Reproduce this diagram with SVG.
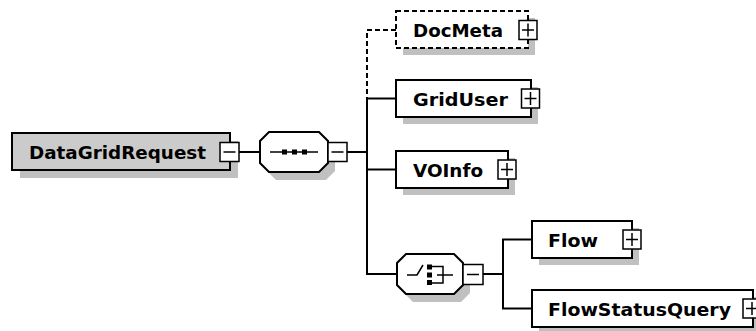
<svg xmlns="http://www.w3.org/2000/svg" width="756" height="331" viewBox="0 0 756 331">
<defs>
<style>
.bg{fill:#ffffff}
.shadow{fill:#c0c0c0;stroke:none}
.box{fill:#ffffff;stroke:#000;stroke-width:2}
.root{fill:#cbcbcb;stroke:#000;stroke-width:2}
.opt{fill:#ffffff;stroke:#000;stroke-width:2;stroke-dasharray:5 3}
.lbl{font-family:"DejaVu Sans",Verdana,sans-serif;font-weight:bold;font-size:18.5px;fill:#000}
.btn{fill:#fff;stroke:#000;stroke-width:1.5}
.sign{stroke:#000;stroke-width:1.5;fill:none}
.wire{stroke:#000;stroke-width:2;fill:none}
.dwire{stroke:#000;stroke-width:2;fill:none;stroke-dasharray:5 3}
.ico{stroke:#000;stroke-width:1.5;fill:none}
.dot{fill:#000}
</style>
</defs>
<rect class="bg" x="0" y="0" width="756" height="331"/>

<g id="connectors">
<line class="wire" x1="239" y1="152" x2="260" y2="152"/>
<line class="wire" x1="347" y1="152" x2="367" y2="152"/>
<polyline class="dwire" points="396,30 367,30 367,98.5"/>
<line class="wire" x1="367" y1="98.5" x2="367" y2="274"/>
<line class="wire" x1="366" y1="98.5" x2="396" y2="98.5"/>
<line class="wire" x1="366" y1="169.5" x2="396" y2="169.5"/>
<line class="wire" x1="366" y1="274" x2="396" y2="274"/>
<line class="wire" x1="483" y1="274" x2="503" y2="274"/>
<line class="wire" x1="503" y1="239.5" x2="503" y2="308.5"/>
<line class="wire" x1="502" y1="239.5" x2="532" y2="239.5"/>
<line class="wire" x1="502" y1="308.5" x2="532" y2="308.5"/>
</g>

<g id="DataGridRequest">
<rect class="shadow" x="20" y="141" width="218" height="37"/>
<rect class="root" x="12" y="133" width="218" height="37"/>
<text class="lbl" x="29" y="158.5" textLength="177" lengthAdjust="spacingAndGlyphs">DataGridRequest</text>
<rect class="btn" x="220" y="142.5" width="19" height="19"/>
<line class="sign" x1="223.5" y1="152" x2="235.5" y2="152"/>
</g>

<g id="sequence">
<polygon class="shadow" points="276,140 326,140 335,149 335,171 326,180 276,180 267,171 267,149"/>
<polygon class="box" points="269,132 319,132 328,141 328,163 319,172 269,172 260,163 260,141"/>
<line class="ico" x1="270" y1="152" x2="318" y2="152"/>
<rect class="dot" x="282" y="149.5" width="5" height="5"/>
<rect class="dot" x="292" y="149.5" width="5" height="5"/>
<rect class="dot" x="302" y="149.5" width="5" height="5"/>
<rect class="btn" x="328" y="142.5" width="19" height="19"/>
<line class="sign" x1="331.5" y1="152" x2="343.5" y2="152"/>
</g>

<g id="DocMeta">
<rect class="shadow" x="403" y="18" width="132" height="37"/>
<rect class="opt" x="396" y="11" width="132" height="37"/>
<text class="lbl" x="413" y="36.5" textLength="90" lengthAdjust="spacingAndGlyphs">DocMeta</text>
<rect class="btn" x="519" y="20.5" width="18" height="19"/>
<line class="sign" x1="522" y1="30" x2="534" y2="30"/>
<line class="sign" x1="528" y1="23.5" x2="528" y2="36.5"/>
</g>

<g id="GridUser">
<rect class="shadow" x="403" y="87" width="135" height="37"/>
<rect class="box" x="396" y="80" width="135" height="37"/>
<text class="lbl" x="413" y="105.5" textLength="95" lengthAdjust="spacingAndGlyphs">GridUser</text>
<rect class="btn" x="521.5" y="89" width="18" height="19"/>
<line class="sign" x1="524.5" y1="98.5" x2="536.5" y2="98.5"/>
<line class="sign" x1="530.5" y1="92" x2="530.5" y2="105"/>
</g>

<g id="VOInfo">
<rect class="shadow" x="403" y="158" width="112" height="37"/>
<rect class="box" x="396" y="151" width="112" height="37"/>
<text class="lbl" x="413" y="176.5" textLength="70" lengthAdjust="spacingAndGlyphs">VOInfo</text>
<rect class="btn" x="498" y="160" width="18" height="19"/>
<line class="sign" x1="501" y1="169.5" x2="513" y2="169.5"/>
<line class="sign" x1="507" y1="163" x2="507" y2="176"/>
</g>

<g id="choice">
<polygon class="shadow" points="413,262 461,262 470,271 470,293 461,302 413,302 404,293 404,271"/>
<polygon class="box" points="406,254 454,254 463,263 463,285 454,294 406,294 397,285 397,263"/>
<polyline class="ico" points="407,275 417,275 423,265"/>
<rect class="dot" x="427" y="264.5" width="5" height="5"/>
<rect class="dot" x="427" y="272.5" width="5" height="5"/>
<rect class="dot" x="427" y="280" width="5" height="5"/>
<polyline class="ico" points="432,266.5 443,266.5 443,283 432,283"/>
<line class="ico" x1="437" y1="275" x2="453" y2="275"/>
<rect class="btn" x="463" y="264.5" width="20" height="20"/>
<line class="sign" x1="467" y1="274.5" x2="479" y2="274.5"/>
</g>

<g id="Flow">
<rect class="shadow" x="539" y="228" width="100" height="37"/>
<rect class="box" x="532" y="221" width="100" height="37"/>
<text class="lbl" x="548" y="246.5" textLength="50" lengthAdjust="spacingAndGlyphs">Flow</text>
<rect class="btn" x="623" y="230" width="18" height="19"/>
<line class="sign" x1="626" y1="239.5" x2="638" y2="239.5"/>
<line class="sign" x1="632" y1="233" x2="632" y2="246"/>
</g>

<g id="FlowStatusQuery">
<rect class="shadow" x="539" y="297" width="221" height="37"/>
<rect class="box" x="532" y="290" width="221" height="37"/>
<text class="lbl" x="548" y="315.5" textLength="183" lengthAdjust="spacingAndGlyphs">FlowStatusQuery</text>
<rect class="btn" x="743" y="299" width="18" height="19"/>
<line class="sign" x1="746" y1="308.5" x2="758" y2="308.5"/>
<line class="sign" x1="752" y1="302" x2="752" y2="315"/>
</g>
</svg>
